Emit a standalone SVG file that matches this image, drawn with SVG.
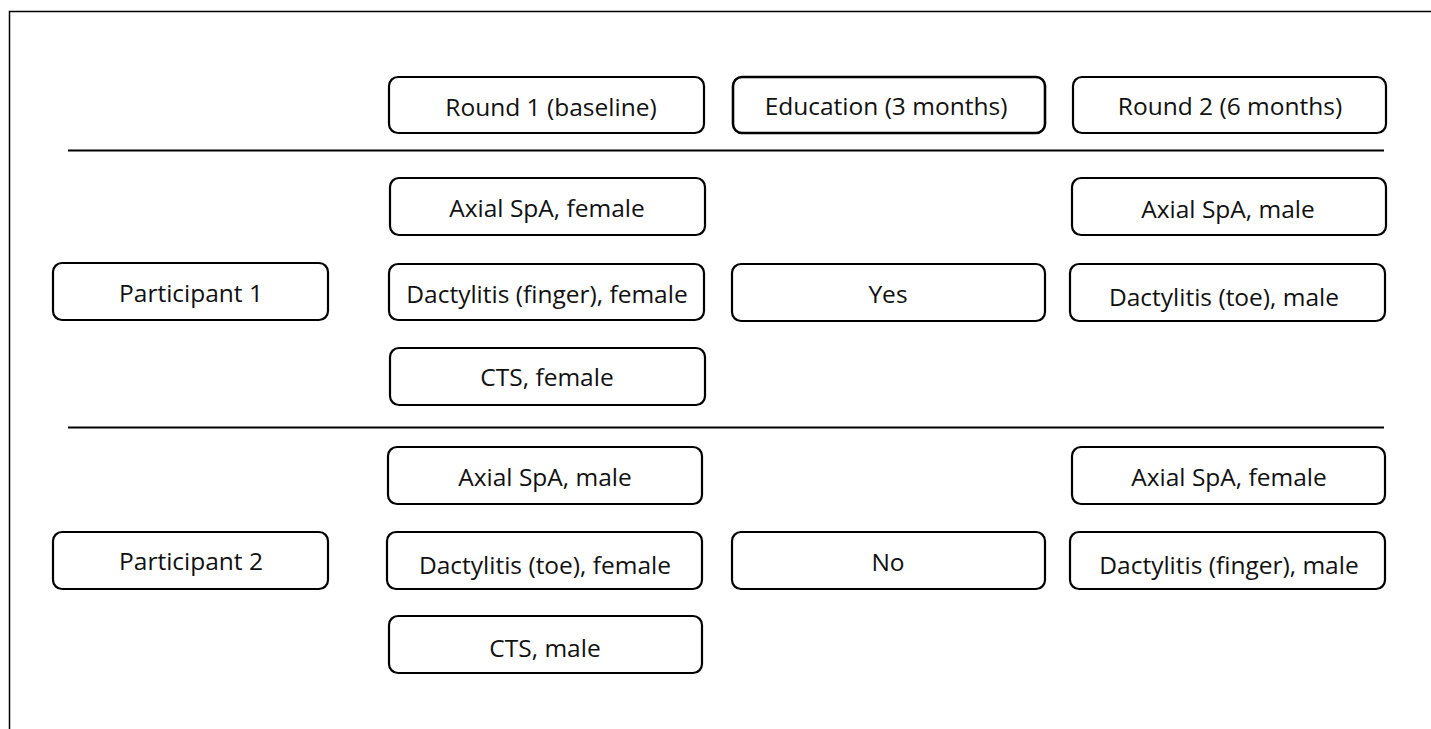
<svg xmlns="http://www.w3.org/2000/svg" width="1431" height="729" viewBox="0 0 1431 729">
<style>
.b{fill:#fff;stroke:#000;stroke-width:2.2}
.t{font-family:"Open Sans","Liberation Sans",sans-serif;font-size:24.5px;fill:#111;text-anchor:middle;dominant-baseline:central}
.l{stroke:#000;stroke-width:2}
</style>
<rect width="1431" height="729" fill="#fff"/>
<g id="frame"><path d="M9.5 729V11.5H1431" fill="none" stroke="#000" stroke-width="1.5"/></g>
<g id="connectors">
<line class="l" x1="68" y1="150.5" x2="1384" y2="150.5"/>
<line class="l" x1="68" y1="427.5" x2="1384" y2="427.5"/>
</g>
<g id="round1"><rect class="b" x="389" y="77" width="315" height="56" rx="9"/><text class="t" x="551" y="106">Round 1 (baseline)</text></g>
<g id="education"><rect class="b" x="733" y="77" width="312" height="56" rx="9" style="stroke-width:2.6"/><text class="t" x="886" y="105">Education (3 months)</text></g>
<g id="round2"><rect class="b" x="1073" y="77" width="313" height="56" rx="9"/><text class="t" x="1230" y="105">Round 2 (6 months)</text></g>
<g id="p1"><rect class="b" x="53" y="263" width="275" height="57" rx="9"/><text class="t" x="191" y="292">Participant 1</text></g>
<g id="p1a"><rect class="b" x="390" y="178" width="315" height="57" rx="9"/><text class="t" x="547" y="207">Axial SpA, female</text></g>
<g id="p1b"><rect class="b" x="389" y="264" width="315" height="56" rx="9"/><text class="t" x="547" y="293">Dactylitis (finger), female</text></g>
<g id="p1c"><rect class="b" x="390" y="348" width="315" height="57" rx="9"/><text class="t" x="547" y="376">CTS, female</text></g>
<g id="yes"><rect class="b" x="732" y="264" width="313" height="57" rx="9"/><text class="t" x="888" y="293">Yes</text></g>
<g id="p1d"><rect class="b" x="1072" y="178" width="314" height="57" rx="9"/><text class="t" x="1228" y="208">Axial SpA, male</text></g>
<g id="p1e"><rect class="b" x="1070" y="264" width="315" height="57" rx="9"/><text class="t" x="1224" y="296">Dactylitis (toe), male</text></g>
<g id="p2"><rect class="b" x="53" y="532" width="275" height="57" rx="9"/><text class="t" x="191" y="560">Participant 2</text></g>
<g id="p2a"><rect class="b" x="388" y="447" width="314" height="57" rx="9"/><text class="t" x="545" y="476">Axial SpA, male</text></g>
<g id="p2b"><rect class="b" x="387" y="532" width="315" height="57" rx="9"/><text class="t" x="545" y="564">Dactylitis (toe), female</text></g>
<g id="p2c"><rect class="b" x="389" y="616" width="313" height="57" rx="9"/><text class="t" x="545" y="647">CTS, male</text></g>
<g id="no"><rect class="b" x="732" y="532" width="313" height="57" rx="9"/><text class="t" x="888" y="561">No</text></g>
<g id="p2d"><rect class="b" x="1072" y="447" width="313" height="57" rx="9"/><text class="t" x="1229" y="476">Axial SpA, female</text></g>
<g id="p2e"><rect class="b" x="1070" y="532" width="315" height="57" rx="9"/><text class="t" x="1229" y="564">Dactylitis (finger), male</text></g>
</svg>
